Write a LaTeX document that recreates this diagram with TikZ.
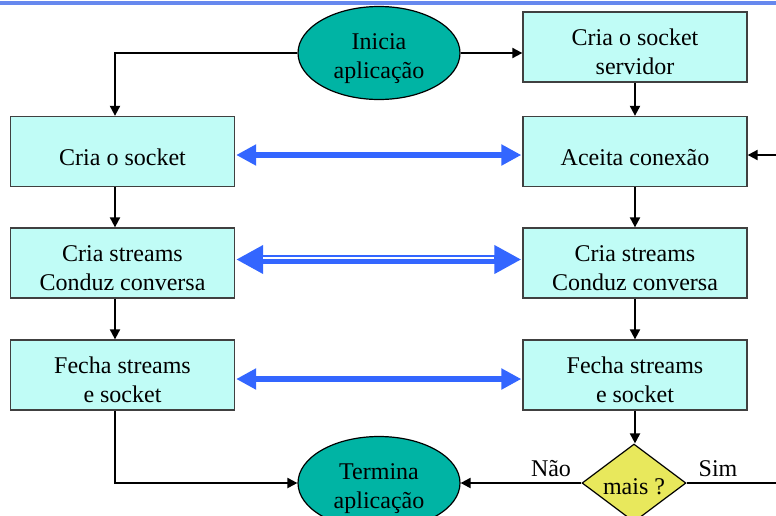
\documentclass[tikz,border=0pt]{standalone}
\usepackage{fontspec}
\setmainfont{Liberation Serif}
\usetikzlibrary{arrows.meta,shapes.geometric,calc}
\definecolor{boxcyan}{HTML}{C0FCF6}
\definecolor{ovalteal}{HTML}{00B4A4}
\definecolor{arrowblue}{HTML}{3366FF}
\definecolor{topblue}{HTML}{6688EE}
\definecolor{diayellow}{HTML}{E8E85C}
\tikzset{
  txt/.style={font=\fontsize{24}{29}\selectfont},
  lowered/.style={execute at begin node={\rule{0pt}{#1}}},
  boxbase/.style={txt, draw=black!75, line width=1.3pt, fill=boxcyan, minimum width=224pt, minimum height=70pt, inner sep=0pt, align=center},
  box/.style={boxbase, lowered=28pt},
  boxtwo/.style={boxbase, lowered=56pt},
  oval/.style={txt, lowered=57pt, ellipse, draw=black, line width=1.2pt, fill=ovalteal, minimum width=162pt, minimum height=93pt, inner sep=0pt, align=center},
  decision/.style={txt, lowered=24pt, align=center, diamond, aspect=1.333, draw=black, line width=1.2pt, fill=diayellow, minimum width=104pt, minimum height=78pt, inner sep=0pt},
  flow/.style={line width=2pt, -{Triangle[length=10pt,width=10pt]}},
  plain/.style={line width=2pt},
  bluearrow/.style={arrowblue, line width=6pt, {Triangle[length=20pt,width=20pt]}-{Triangle[length=20pt,width=20pt]}},
  bigblue/.style={arrowblue, line width=9pt, {Triangle[length=27pt,width=27pt]}-{Triangle[length=27pt,width=27pt]}},
}
\begin{document}
\begin{tikzpicture}[x=1pt,y=-1pt]
\useasboundingbox (0,0) rectangle (776,515);
\clip (0,0) rectangle (776,515);
\draw[topblue, line width=3.5pt] (0,3) -- (776,3);

\node[oval] (I) at (379,53) {Inicia\\aplicação};
\node[oval] (T) at (379,483) {Termina\\aplicação};

\node[box] (L1) at (122.5,151.5) {Cria o socket};
\node[boxtwo] (L2) at (122.5,263) {Cria streams\\Conduz conversa};
\node[boxtwo] (L3) at (122.5,375) {Fecha streams\\e socket};

\node[boxtwo] (R0) at (635,47) {Cria o socket\\servidor};
\node[box] (R1) at (635,151.5) {Aceita conexão};
\node[boxtwo] (R2) at (635,263) {Cria streams\\Conduz conversa};
\node[boxtwo] (R3) at (635,375) {Fecha streams\\e socket};

\node[decision] (D) at (634,483) {mais ?};

\coordinate (xl) at (115,0);
\coordinate (edgeA) at (776,483);
\coordinate (edgeB) at (776,155);

% black flow
\draw[flow] (I.west) -| (xl |- L1.north);
\draw[flow] (I.east) -- (I.east -| R0.west);
\draw[flow] (xl |- L1.south) -- (xl |- L2.north);
\draw[flow] (xl |- L2.south) -- (xl |- L3.north);
\draw[flow] (xl |- L3.south) |- (T.west);
\draw[flow] (R0.south) -- (R1.north);
\draw[flow] (R1.south) -- (R2.north);
\draw[flow] (R2.south) -- (R3.north);
\draw[flow] (R3.south) -- (R3.south |- D.north);
\draw[flow] (D.west) -- (T.east);
\draw[plain] (D.east) -- (edgeA);
\draw[flow] (edgeB) -- (edgeB -| R1.east);

\node[txt, anchor=base] (nao) at (551,476) {Não};
\node[txt, anchor=base] (sim) at (718,476) {Sim};

% blue arrows
\draw[bluearrow] ($(L1.east)+(1,3.5)$) -- ($(R1.west)+(-1,3.5)$);
\draw[bigblue] ($(L2.east)+(1,-3.5)$) -- ($(R2.west)+(-1,-3.5)$);
\draw[white, line width=1.4pt] ($(L2.east)+(28,-5)$) -- ($(R2.west)+(-28,-5)$);
\draw[bluearrow] ($(L3.east)+(1,4)$) -- ($(R3.west)+(-1,4)$);
\end{tikzpicture}
\end{document}
